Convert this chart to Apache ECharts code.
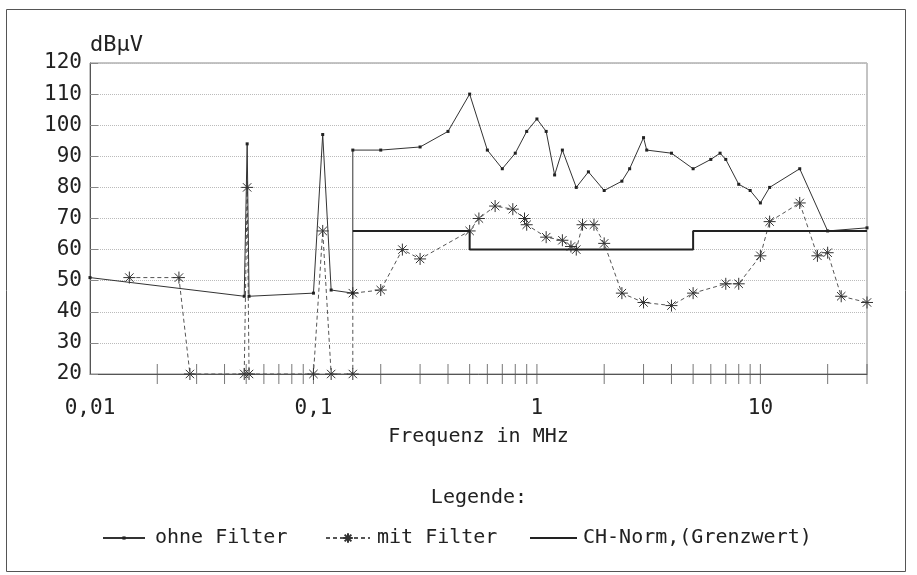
<!DOCTYPE html>
<html>
<head>
<meta charset="utf-8">
<script src="https://cdn.jsdelivr.net/npm/echarts@6/dist/echarts.min.js"></script>
<style>html,body{margin:0;padding:0;background:#fff}#c{width:917px;height:575px}</style>
</head>
<body>
<div id="c"></div>
<script>
// ---- data (frequency in MHz, level in dBµV) ----
const ohneFreq  = [0.01, 0.049, 0.0505, 0.0515, 0.1, 0.11, 0.12, 0.15, 0.15, 0.2, 0.3, 0.4, 0.5, 0.6, 0.7, 0.8, 0.9, 1, 1.1, 1.2, 1.3, 1.5, 1.7, 2, 2.4, 2.6, 3, 3.1, 4, 5, 6, 6.6, 7, 8, 9, 10, 11, 15, 20, 30];
const ohneLevel = [51, 45, 94, 45, 46, 97, 47, 46, 92, 92, 93, 98, 110, 92, 86, 91, 98, 102, 98, 84, 92, 80, 85, 79, 82, 86, 96, 92, 91, 86, 89, 91, 89, 81, 79, 75, 80, 86, 66, 67];

const mitFreq  = [0.015, 0.025, 0.028, 0.049, 0.0505, 0.0515, 0.1, 0.11, 0.12, 0.15, 0.15, 0.2, 0.25, 0.3, 0.5, 0.55, 0.65, 0.78, 0.88, 0.9, 1.1, 1.3, 1.42, 1.5, 1.6, 1.8, 2, 2.4, 3, 4, 5, 7, 8, 10, 11, 15, 18, 20, 23, 30];
const mitLevel = [51, 51, 20, 20, 80, 20, 20, 66, 20, 20, 46, 47, 60, 57, 66, 70, 74, 73, 70, 68, 64, 63, 61, 60, 68, 68, 62, 46, 43, 42, 46, 49, 49, 58, 69, 75, 58, 59, 45, 43];

const normFreq  = [0.15, 0.5, 0.5, 5, 5, 30];
const normLevel = [66, 66, 60, 60, 66, 66];

const seriesNames = ['ohne Filter', 'mit Filter', 'CH-Norm,(Grenzwert)'];

// tick marks on the frequency axis, and labelled values
const xTickValues = [0.02,0.03,0.04,0.05,0.06,0.07,0.08,0.09,0.1,0.2,0.3,0.4,0.5,0.6,0.7,0.8,0.9,1,2,3,4,5,6,7,8,9,10,20,30];
const xLabelValues = [0.01, 0.1, 1, 10];
const xLabelTexts  = ['0,01', '0,1', '1', '10'];
const yMin = 20, yMax = 120, yStep = 10;

const zip = (a, b) => a.map((v, i) => [v, b[i]]);

const FONT = 'DejaVu Sans Mono';
const STAR = 'path://M5,0L5,10M0,5L10,5M1.5,1.5L8.5,8.5M8.5,1.5L1.5,8.5';

const chart = echarts.init(document.getElementById('c'), null, {renderer: 'canvas'});
chart.setOption({
  backgroundColor: '#fff',
  animation: false,
  grid: {left: 90, right: 50, top: 63, bottom: 201, show: true, borderColor: '#888', borderWidth: 1},
  xAxis: {
    type: 'log', logBase: 10, min: 0.01, max: 30,
    name: 'Frequenz in MHz', nameLocation: 'middle', nameGap: 53,
    nameTextStyle: {fontFamily: FONT, fontSize: 20, color: '#222'},
    axisLine: {lineStyle: {color: '#555', width: 1}},
    axisTick: {show: false},
    splitLine: {show: false},
    axisLabel: {
      fontFamily: FONT, fontSize: 21, color: '#222', margin: 24,
      showMaxLabel: false,
      formatter: function (v) {
        for (let i = 0; i < xLabelValues.length; i++) {
          if (Math.abs(Math.log10(v) - Math.log10(xLabelValues[i])) < 1e-6) return xLabelTexts[i];
        }
        return '';
      }
    }
  },
  yAxis: {
    type: 'value', min: yMin, max: yMax, interval: yStep,
    name: 'dBµV', nameLocation: 'end', nameGap: 7,
    nameTextStyle: {fontFamily: FONT, fontSize: 22, color: '#222', align: 'left'},
    axisLine: {show: true, lineStyle: {color: '#555'}},
    axisTick: {show: true, inside: true, length: 8, lineStyle: {color: '#888'}},
    axisLabel: {fontFamily: FONT, fontSize: 21, color: '#222', margin: 8},
    splitLine: {lineStyle: {type: 'dotted', color: '#bbb'}}
  },
  legend: [
    {data: [seriesNames[0]], left: 97, top: 523, itemWidth: 42, itemHeight: 4,
     textStyle: {fontFamily: FONT, fontSize: 20, color: '#222', padding: [0, 0, 0, 5]}},
    {data: [seriesNames[1]], left: 320, top: 523, itemWidth: 44, itemHeight: 12,
     textStyle: {fontFamily: FONT, fontSize: 20, color: '#222', padding: [0, 0, 0, 2]}},
    {data: [{name: seriesNames[2], icon: 'rect'}], left: 525, top: 523, itemWidth: 47, itemHeight: 2,
     textStyle: {fontFamily: FONT, fontSize: 20, color: '#222', padding: [0, 0, 0, 1]}}
  ],
  graphic: [
    {type: 'rect', shape: {x: 6.5, y: 9.5, width: 899, height: 562}, style: {fill: 'none', stroke: '#555', lineWidth: 1}, z: 0, silent: true},
    {type: 'text', x: 479, y: 498, style: {text: 'Legende:', fontFamily: FONT, fontSize: 20, fill: '#222', textAlign: 'center', textVerticalAlign: 'middle'}}
  ],
  series: [
    {
      name: 'ticks', type: 'scatter', silent: true, z: 1, clip: false,
      data: xTickValues.map(v => [v, yMin]),
      symbol: 'rect', symbolSize: [1, 20],
      itemStyle: {color: '#555'}
    },
    {
      name: seriesNames[0], type: 'line', z: 3,
      data: zip(ohneFreq, ohneLevel),
      symbol: 'rect', symbolSize: 3, showAllSymbol: true,
      lineStyle: {color: '#333', width: 1},
      itemStyle: {color: '#222'}
    },
    {
      name: seriesNames[1], type: 'line', z: 2,
      data: zip(mitFreq, mitLevel),
      symbol: STAR, symbolSize: 12, showAllSymbol: true,
      lineStyle: {color: '#555', width: 1, type: [4, 3]},
      itemStyle: {color: 'none', borderColor: '#333', borderWidth: 1}
    },
    {
      name: seriesNames[2], type: 'line', z: 4,
      data: zip(normFreq, normLevel),
      symbol: 'none',
      lineStyle: {color: '#222', width: 2},
      itemStyle: {color: '#222'}
    }
  ]
});
</script>
</body>
</html>
